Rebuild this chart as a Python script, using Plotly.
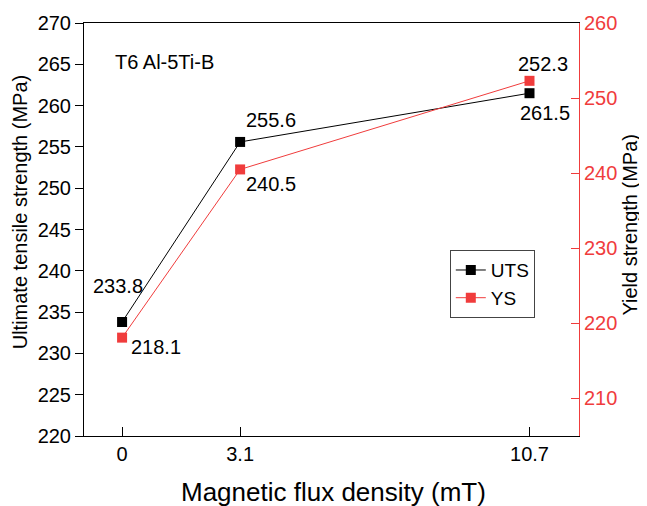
import plotly.graph_objects as go

x_vals = [0, 3.1, 10.7]
x_labels = ["0", "3.1", "10.7"]
uts = [233.8, 255.6, 261.5]
ys = [218.1, 240.5, 252.3]
uts_labels = ["233.8", "255.6", "261.5"]
ys_labels = ["218.1", "240.5", "252.3"]

RED = "#f03c3c"
FONT = "Liberation Sans, Arial, sans-serif"
FS = 20

fig = go.Figure()
fig.add_trace(go.Scatter(x=x_vals, y=uts, name="UTS", mode="lines+markers",
                         line=dict(color="black", width=1),
                         marker=dict(symbol="square", size=10, color="black"),
                         yaxis="y"))
fig.add_trace(go.Scatter(x=x_vals, y=ys, name="YS", mode="lines+markers",
                         line=dict(color=RED, width=1),
                         marker=dict(symbol="square", size=10, color=RED),
                         yaxis="y2"))

# label offsets (pixels)
uts_off = [(-4, 36), (31, 22), (15, -20)]
ys_off = [(34, -9), (31, -15), (13, 17)]
for i in range(3):
    fig.add_annotation(x=x_vals[i], y=uts[i], xref="x", yref="y", text=uts_labels[i],
                       showarrow=False, xshift=uts_off[i][0], yshift=uts_off[i][1],
                       font=dict(size=FS, color="black", family=FONT))
    fig.add_annotation(x=x_vals[i], y=ys[i], xref="x", yref="y2", text=ys_labels[i],
                       showarrow=False, xshift=ys_off[i][0], yshift=ys_off[i][1],
                       font=dict(size=FS, color="black", family=FONT))

fig.add_annotation(x=0.058, y=0.906, xref="paper", yref="paper", text="T6 Al-5Ti-B",
                   showarrow=False, xanchor="left", yanchor="middle",
                   font=dict(size=FS, color="black", family=FONT))

# axis titles
fig.add_annotation(x=-0.129, y=0.542, xref="paper", yref="paper",
                   text="Ultimate tensile strength (MPa)", textangle=-90,
                   showarrow=False, xanchor="center", yanchor="middle",
                   font=dict(size=FS, color="black", family=FONT))
fig.add_annotation(x=1.104, y=0.513, xref="paper", yref="paper",
                   text="Yield strength (MPa)", textangle=-90,
                   showarrow=False, xanchor="center", yanchor="middle",
                   font=dict(size=FS, color="black", family=FONT))
fig.add_annotation(x=0.505, y=-0.136, xref="paper", yref="paper",
                   text="Magnetic flux density (mT)",
                   showarrow=False, xanchor="center", yanchor="middle",
                   font=dict(size=26, color="black", family=FONT))

fig.update_layout(
    width=639, height=498,
    margin=dict(l=76, r=68, t=15, b=70, autoexpand=False),
    paper_bgcolor="white", plot_bgcolor="white",
    font=dict(family=FONT, color="black"),
    showlegend=True,
    legend=dict(x=0.739, y=0.45, xanchor="left", yanchor="top",
                bordercolor="#444", borderwidth=1, bgcolor="white",
                font=dict(size=19, family=FONT),
                entrywidth=58, entrywidthmode="pixels",
                tracegroupgap=0),
    xaxis=dict(range=[-1, 12], tickvals=x_vals, ticktext=x_labels,
               ticks="inside", ticklen=9, tickcolor="black",
               showline=True, linecolor="black", linewidth=1, mirror=True,
               showgrid=False, zeroline=False, automargin=False,
               tickfont=dict(size=FS, family=FONT)),
    yaxis=dict(range=[220, 270], dtick=5, ticks="outside", ticklen=8, tickcolor="black",
               showline=True, linecolor="black", linewidth=1,
               showgrid=False, zeroline=False, automargin=False,
               tickfont=dict(size=FS, family=FONT)),
    yaxis2=dict(range=[205, 260], dtick=10, tick0=210, overlaying="y", side="right",
                ticks="inside", ticklen=8, tickcolor=RED,
                showline=True, linecolor=RED, linewidth=1,
                showgrid=False, zeroline=False, automargin=False,
                tickfont=dict(size=FS, color=RED, family=FONT)),
)

fig.write_html("out.html")
